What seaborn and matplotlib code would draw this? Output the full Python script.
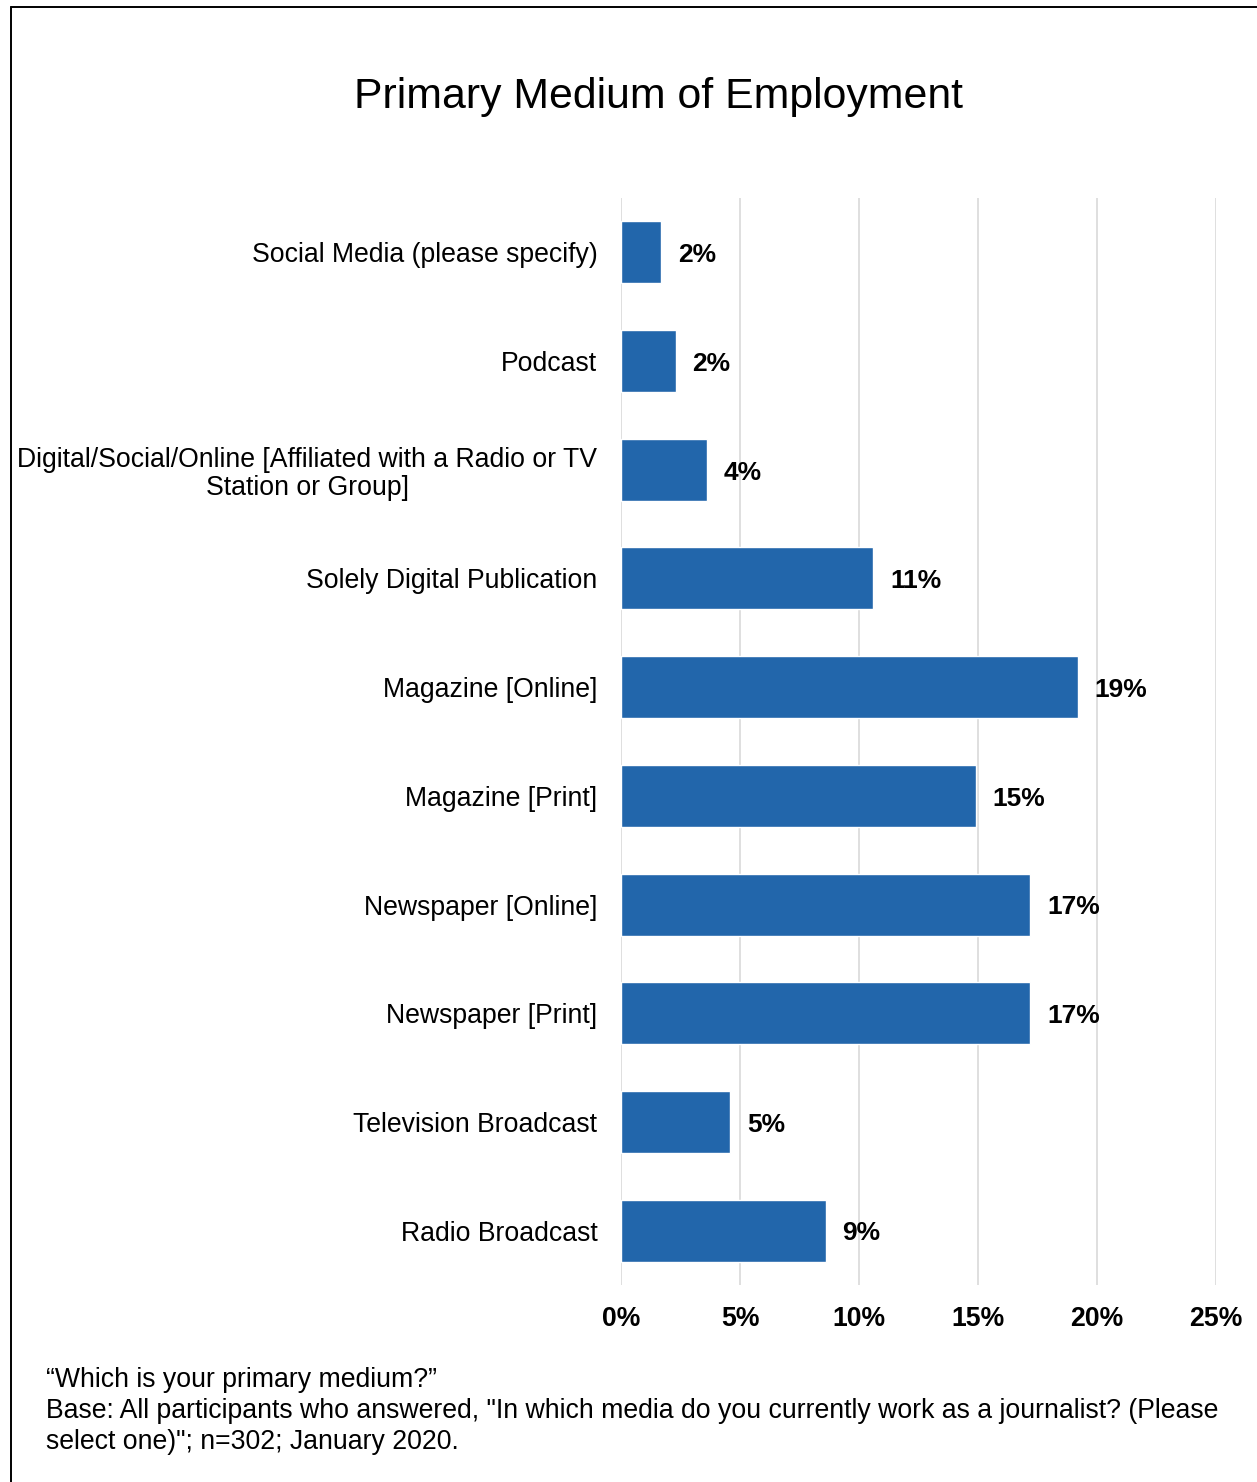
import matplotlib
matplotlib.use("Agg")
import matplotlib.pyplot as plt
from matplotlib.lines import Line2D
import seaborn as sns
import pandas as pd

# Share of respondents (%) by primary medium, n=302
categories = [
    "Social Media (please specify)",
    "Podcast",
    "Digital/Social/Online [Affiliated with a Radio or TV\nStation or Group]",
    "Solely Digital Publication",
    "Magazine [Online]",
    "Magazine [Print]",
    "Newspaper [Online]",
    "Newspaper [Print]",
    "Television Broadcast",
    "Radio Broadcast",
]
shares = [1.7, 2.3, 3.6, 10.6, 19.2, 14.9, 17.2, 17.2, 4.6, 8.6]
x_ticks = [0, 5, 10, 15, 20, 25]

title = "Primary Medium of Employment"
footnote = [
    "\u201cWhich is your primary medium?\u201d",
    "Base: All participants who answered, \"In which media do you currently work as a journalist? (Please",
    "select one)\"; n=302; January 2020.",
]

df = pd.DataFrame({"medium": categories, "share": shares})

sns.set_theme(style="white")
plt.rcParams["font.family"] = ["Liberation Sans", "DejaVu Sans"]
plt.rcParams["text.color"] = "black"
plt.rcParams["xtick.color"] = "black"
plt.rcParams["ytick.color"] = "black"

W, H = 1257, 1482
fig = plt.figure(figsize=(W / 100, H / 100), dpi=100)
ax = fig.add_axes([621 / W, 1 - 1285 / H, (1216 - 621) / W, (1285 - 198) / H])

bar_color = "#2266ab"
sns.barplot(data=df, x="share", y="medium", orient="h", color=bar_color,
            saturation=1, width=0.57, ax=ax, zorder=3)

ax.set_xlim(0, 25)
ax.set_xticks(x_ticks)
ax.set_xticklabels([f"{t}%" for t in x_ticks], fontsize=19.2, fontweight="bold")
ax.set_xlabel("")
ax.set_ylabel("")
ax.tick_params(axis="x", length=0, pad=15)
ax.tick_params(axis="y", length=0, pad=17, labelsize=19.2)
for lbl in ax.get_yticklabels():
    lbl.set_multialignment("center")
    lbl.set_linespacing(1.1)

ax.grid(axis="x", color="#d9d9d9", linewidth=1.2, zorder=0)
ax.grid(axis="y", visible=False)
for s in ax.spines.values():
    s.set_visible(False)

# value labels next to each bar
for i, v in enumerate(shares):
    ax.annotate(f"{v:.0f}%", xy=(v, i), xytext=(12, -2), textcoords="offset points",
                ha="left", va="center", fontsize=19, fontweight="bold", color="black")

fig.text(658 / W, 1 - 97 / H, title, ha="center", va="center", fontsize=30.8)

for line, y in zip(footnote, [1380, 1411, 1442]):
    fig.text(46 / W, 1 - y / H, line, ha="left", va="center", fontsize=19.2)

# outer frame (top and left edges)
x0, y0 = 10.5 / W, 1 - 6.5 / H
fig.add_artist(Line2D([x0, 1], [y0, y0], transform=fig.transFigure, color="black", linewidth=1.4))
fig.add_artist(Line2D([x0, x0], [0, y0], transform=fig.transFigure, color="black", linewidth=1.4))

fig.savefig("out.png", dpi=100, facecolor="white")
